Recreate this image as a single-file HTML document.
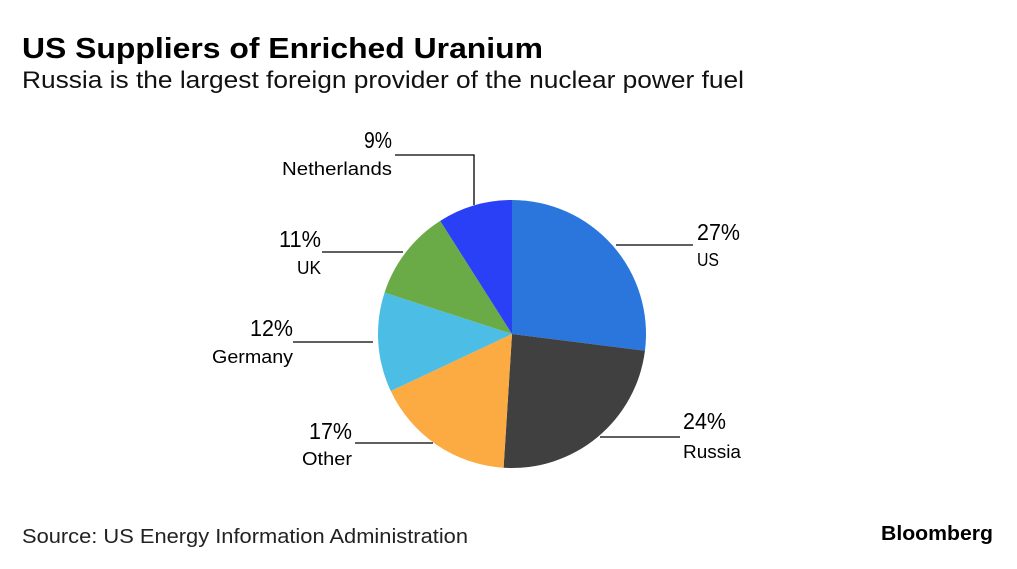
<!DOCTYPE html>
<html><head><meta charset="utf-8"><style>body{margin:0;background:#fff}svg{display:block}</style></head>
<body>
<svg id="s" width="1017" height="569" xmlns="http://www.w3.org/2000/svg" font-family="Liberation Sans, DejaVu Sans, sans-serif">
<rect width="1017" height="569" fill="#fff"/>
<text x="22" y="58" font-size="29" font-weight="bold" textLength="521" lengthAdjust="spacingAndGlyphs">US Suppliers of Enriched Uranium</text>
<text x="22" y="88" font-size="24" textLength="722" lengthAdjust="spacingAndGlyphs" fill="#111">Russia is the largest foreign provider of the nuclear power fuel</text>
<g id="pie"></g>
<g stroke="#000" stroke-width="1.3" fill="none">
<line x1="616" y1="245" x2="693" y2="245"/>
<line x1="600" y1="437" x2="680" y2="437"/>
<line x1="355" y1="443" x2="433" y2="443"/>
<line x1="293" y1="342" x2="373" y2="342"/>
<line x1="322" y1="252" x2="403" y2="252"/>
<polyline points="395,155 474,155 474,205"/>
</g>
<g font-size="23">
<text x="697" y="240" textLength="43" lengthAdjust="spacingAndGlyphs">27%</text>
<text x="683" y="429" textLength="43" lengthAdjust="spacingAndGlyphs">24%</text>
<text x="309" y="439" textLength="43" lengthAdjust="spacingAndGlyphs">17%</text>
<text x="250" y="336" textLength="43" lengthAdjust="spacingAndGlyphs">12%</text>
<text x="279" y="247" textLength="42" lengthAdjust="spacingAndGlyphs">11%</text>
<text x="364" y="148" textLength="28" lengthAdjust="spacingAndGlyphs">9%</text>
</g>
<g font-size="18">
<text x="697" y="266" textLength="22" lengthAdjust="spacingAndGlyphs">US</text>
<text x="683" y="458" textLength="58" lengthAdjust="spacingAndGlyphs">Russia</text>
<text x="302" y="465" textLength="50" lengthAdjust="spacingAndGlyphs">Other</text>
<text x="212" y="363" textLength="81" lengthAdjust="spacingAndGlyphs">Germany</text>
<text x="297" y="274" textLength="24" lengthAdjust="spacingAndGlyphs">UK</text>
<text x="282" y="175" textLength="110" lengthAdjust="spacingAndGlyphs">Netherlands</text>
</g>
<text x="22" y="543" font-size="20" textLength="446" lengthAdjust="spacingAndGlyphs" fill="#222">Source: US Energy Information Administration</text>
<text x="881" y="540" font-size="20" font-weight="bold" textLength="112" lengthAdjust="spacingAndGlyphs">Bloomberg</text>
</svg>
<script>
var d=[[27,"#2a76dc"],[24,"#404040"],[17,"#fbab41"],[12,"#4cbde5"],[11,"#6aab48"],[9,"#2a40f7"]];
var cx=512,cy=334,r=134,a=0,g=document.getElementById("pie"),h="";
d.forEach(function(s){var a2=a+s[0]/100*2*Math.PI;
var x1=cx+r*Math.sin(a),y1=cy-r*Math.cos(a),x2=cx+r*Math.sin(a2),y2=cy-r*Math.cos(a2);
h+='<path d="M'+cx+','+cy+'L'+x1+','+y1+'A'+r+','+r+' 0 '+(a2-a>Math.PI?1:0)+' 1 '+x2+','+y2+'Z" fill="'+s[1]+'"/>';a=a2;});
g.innerHTML=h;
</script>
</body></html>
